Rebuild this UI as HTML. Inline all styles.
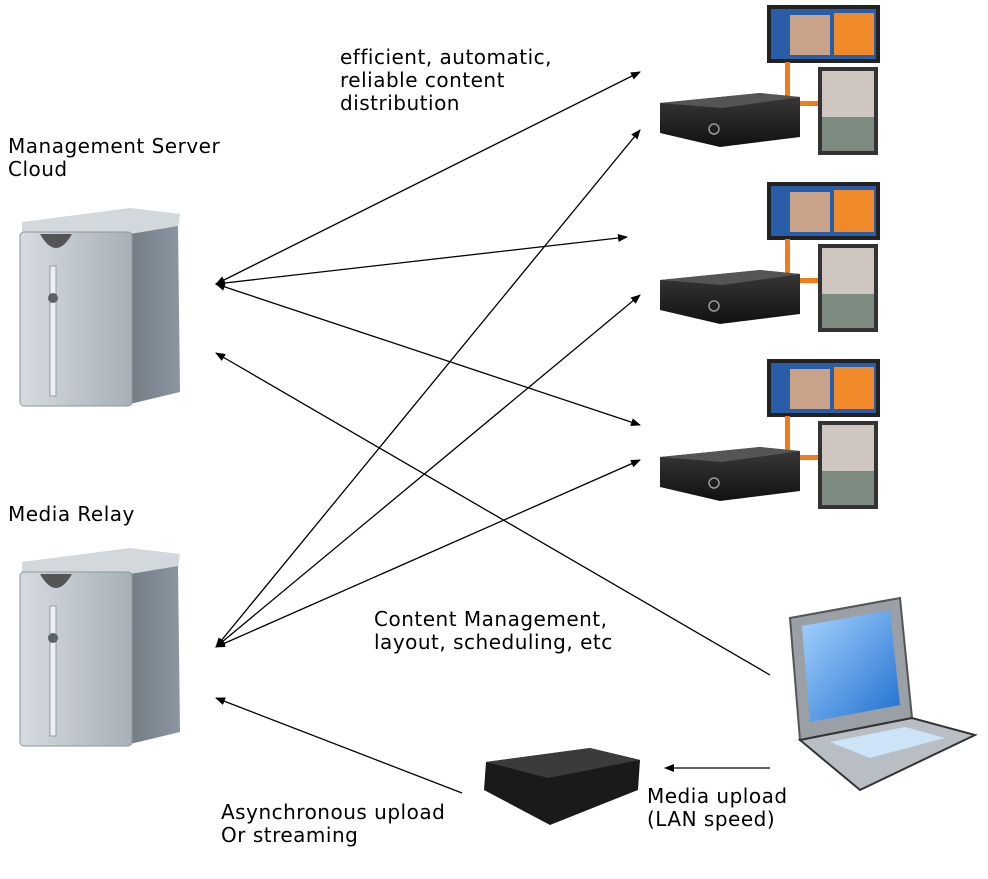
<!DOCTYPE html>
<html><head><meta charset="utf-8"><style>
html,body{margin:0;padding:0;background:#fff;width:988px;height:879px;overflow:hidden}
text{font-family:"DejaVu Sans","Liberation Sans",sans-serif;font-size:20px;letter-spacing:0.5px;fill:#000}
</style></head><body>
<svg width="988" height="879" viewBox="0 0 988 879" xmlns="http://www.w3.org/2000/svg">
<defs>
<marker id="a" markerWidth="10" markerHeight="8" refX="9" refY="4" orient="auto-start-reverse" markerUnits="userSpaceOnUse"><path d="M0,0 L10,4 L0,8 Z" fill="#000"/></marker>
<linearGradient id="front" x1="0" x2="1"><stop offset="0" stop-color="#d6dbe0"/><stop offset="1" stop-color="#a7b0b8"/></linearGradient>
<linearGradient id="side" x1="0" x2="1"><stop offset="0" stop-color="#737d86"/><stop offset="1" stop-color="#8c96a0"/></linearGradient>
<linearGradient id="scr" x1="0" y1="0" x2="1" y2="1"><stop offset="0" stop-color="#a8d4ff"/><stop offset="1" stop-color="#1f6fd0"/></linearGradient>
<linearGradient id="boxg" x1="0" y1="0" x2="0" y2="1"><stop offset="0" stop-color="#3a3a3a"/><stop offset="1" stop-color="#111"/></linearGradient>
<g id="server">
<path d="M22,222 L130,208 L180,214 L178,228 L130,234 L22,236 Z" fill="#d3d8dc"/>
<path d="M130,234 L178,226 L180,392 L130,404 Z" fill="url(#side)"/>
<rect x="20" y="232" width="112" height="174" rx="4" fill="url(#front)" stroke="#8d969e"/>
<path d="M40,234 Q56,262 72,234 Z" fill="#555"/>
<rect x="50" y="266" width="6" height="130" fill="#eef1f3" stroke="#99a"/>
<circle cx="53" cy="298" r="5" fill="#5b636a"/>
</g>
<g id="player">
<rect x="767" y="0" width="113" height="58" fill="#222"/>
<rect x="771" y="4" width="105" height="50" fill="#2a5da8"/>
<rect x="834" y="8" width="40" height="42" fill="#f0892a"/>
<rect x="790" y="10" width="40" height="40" fill="#c9a28a"/>
<rect x="785" y="57" width="5" height="34" fill="#f07d1a"/>
<rect x="800" y="96" width="20" height="5" fill="#f07d1a"/>
<rect x="818" y="62" width="60" height="88" fill="#333"/>
<rect x="822" y="66" width="52" height="46" fill="#cfc6c0"/>
<rect x="822" y="112" width="52" height="34" fill="#7d8a80"/>
<path d="M660,98 L760,88 L800,92 L800,132 L720,142 L660,128 Z" fill="url(#boxg)"/>
<path d="M660,98 L760,88 L800,92 L722,103 Z" fill="#555"/>
<circle cx="714" cy="124" r="5" fill="none" stroke="#999" stroke-width="1.5"/>
</g>
</defs>

<use href="#server"/>
<use href="#server" y="340"/>
<use href="#player" y="5"/>
<use href="#player" y="182"/>
<use href="#player" y="359"/>

<path d="M486,762 L590,748 L640,760 L638,790 L550,825 L484,790 Z" fill="#1a1a1a"/>
<path d="M486,762 L590,748 L640,760 L548,778 Z" fill="#3b3b3b"/>
<path d="M790,618 L900,598 L912,718 L800,740 Z" fill="#9aa0a6" stroke="#555" stroke-width="2"/>
<path d="M802,626 L890,610 L900,705 L810,722 Z" fill="url(#scr)"/>
<path d="M800,740 L912,718 L975,735 L860,790 Z" fill="#b8bec4" stroke="#333" stroke-width="2"/>
<path d="M830,742 L905,727 L945,738 L870,758 Z" fill="#cde3f7"/>

<g stroke="#000" stroke-width="1.3" fill="none">
<line x1="216" y1="284" x2="640" y2="72" marker-end="url(#a)" marker-start="url(#a)"/>
<line x1="216" y1="284" x2="627" y2="237" marker-end="url(#a)" marker-start="url(#a)"/>
<line x1="216" y1="284" x2="640" y2="425" marker-end="url(#a)" marker-start="url(#a)"/>
<line x1="216" y1="647" x2="640" y2="130" marker-end="url(#a)" marker-start="url(#a)"/>
<line x1="216" y1="647" x2="640" y2="295" marker-end="url(#a)" marker-start="url(#a)"/>
<line x1="216" y1="647" x2="640" y2="460" marker-end="url(#a)" marker-start="url(#a)"/>
<line x1="770" y1="675" x2="216" y2="353" marker-end="url(#a)"/>
<line x1="462" y1="793" x2="216" y2="698" marker-end="url(#a)"/>
<line x1="770" y1="768" x2="665" y2="768" marker-end="url(#a)"/>
</g>

<text x="340" y="64">efficient, automatic,</text>
<text x="340" y="87">reliable content</text>
<text x="340" y="110">distribution</text>
<text x="8" y="153">Management Server</text>
<text x="8" y="176">Cloud</text>
<text x="8" y="521">Media Relay</text>
<text x="374" y="626">Content Management,</text>
<text x="374" y="649">layout, scheduling, etc</text>
<text x="221" y="819">Asynchronous upload</text>
<text x="221" y="842">Or streaming</text>
<text x="647" y="803">Media upload</text>
<text x="647" y="826">(LAN speed)</text>
</svg>
</body></html>
